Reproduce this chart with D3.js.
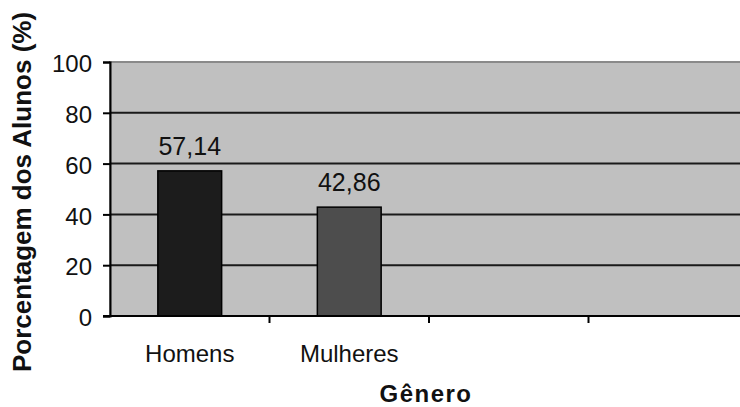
<!DOCTYPE html>
<html><head><meta charset="utf-8">
<script src="https://cdn.jsdelivr.net/npm/d3@7"></script>
<style>
html,body{margin:0;padding:0;background:#fff;}
svg{display:block;font-family:"Liberation Sans",Arial,sans-serif;}
</style></head>
<body><svg id="c" width="740" height="407"></svg>
<script>
const categories = ["Homens", "Mulheres", "", ""];
const values = [57.14, 42.86, null, null];
const yTicks = [0, 20, 40, 60, 80, 100];
const barColors = ["#1c1c1c", "#4d4d4d"];
const yTitle = "Porcentagem dos Alunos (%)";
const xTitle = "Gênero";

const svg = d3.select("#c");
const mLeft = 110, mTop = 62, mBottom = 316, mRight = 748;
const locale = d3.formatLocale({decimal: ",", thousands: ".", grouping: [3], currency: ["", ""]});
const fmt = locale.format(".2f");

const x = d3.scaleBand().domain(d3.range(categories.length)).range([mLeft, mRight]).padding(0);
const y = d3.scaleLinear().domain([0, 100]).range([mBottom, mTop]);

// plot area
svg.append("rect").attr("x", mLeft).attr("y", mTop).attr("width", mRight - mLeft).attr("height", mBottom - mTop)
  .attr("fill", "#c0c0c0").attr("stroke", "#8a8a8a").attr("stroke-width", 2);

// gridlines
svg.append("g").selectAll("line").data(yTicks.filter(t => t > 0 && t < 100)).join("line")
  .attr("x1", mLeft).attr("x2", mRight).attr("y1", d => y(d)).attr("y2", d => y(d))
  .attr("stroke", "#1a1a1a").attr("stroke-width", 2);

// bars
const bw = x.bandwidth() * 0.4;
const data = values.map((v, i) => ({i, v})).filter(d => d.v != null);
svg.append("g").selectAll("rect").data(data).join("rect")
  .attr("x", d => x(d.i) + x.bandwidth() / 2 - bw / 2)
  .attr("y", d => y(d.v)).attr("width", bw).attr("height", d => y(0) - y(d.v))
  .attr("fill", d => barColors[d.i]).attr("stroke", "#000").attr("stroke-width", 1.5);

// value labels
svg.append("g").selectAll("text").data(data).join("text")
  .attr("x", d => x(d.i) + x.bandwidth() / 2).attr("y", d => y(d.v) - 16)
  .attr("text-anchor", "middle").attr("font-size", 25).attr("fill", "#111")
  .text(d => fmt(d.v));

// y axis
const ya = svg.append("g").attr("transform", `translate(${mLeft},0)`)
  .call(d3.axisLeft(y).tickValues(yTicks).tickSize(7).tickPadding(11));
ya.select(".domain").attr("stroke", "#000").attr("stroke-width", 2);
ya.selectAll(".tick line").attr("stroke", "#000").attr("stroke-width", 2);
ya.selectAll(".tick text").attr("font-size", 24).attr("fill", "#111").attr("font-family", "Liberation Sans, Arial, sans-serif").attr("dy", "0.4em");

// x axis
const xa = svg.append("g").attr("transform", `translate(0,${mBottom})`)
  .call(d3.axisBottom(x).tickFormat(i => categories[i]).tickSize(0).tickPadding(29));
xa.select(".domain").remove();
xa.selectAll(".tick text").attr("font-size", 24).attr("fill", "#111").attr("font-family", "Liberation Sans, Arial, sans-serif");
svg.append("line").attr("x1", mLeft - 7).attr("x2", mRight).attr("y1", mBottom).attr("y2", mBottom)
  .attr("stroke", "#000").attr("stroke-width", 2);
svg.append("g").selectAll("line").data(d3.range(1, categories.length)).join("line")
  .attr("x1", d => x(d)).attr("x2", d => x(d)).attr("y1", mBottom).attr("y2", mBottom + 7)
  .attr("stroke", "#000").attr("stroke-width", 2);

// titles
svg.append("text").attr("x", 426).attr("y", 402).attr("text-anchor", "middle")
  .attr("font-size", 24).attr("font-weight", "bold").attr("fill", "#111").attr("letter-spacing", 1.5).text(xTitle);
svg.append("text").attr("transform", "translate(31,192) rotate(-90)").attr("text-anchor", "middle")
  .attr("font-size", 26).attr("font-weight", "bold").attr("fill", "#111").text(yTitle);
</script></body></html>
